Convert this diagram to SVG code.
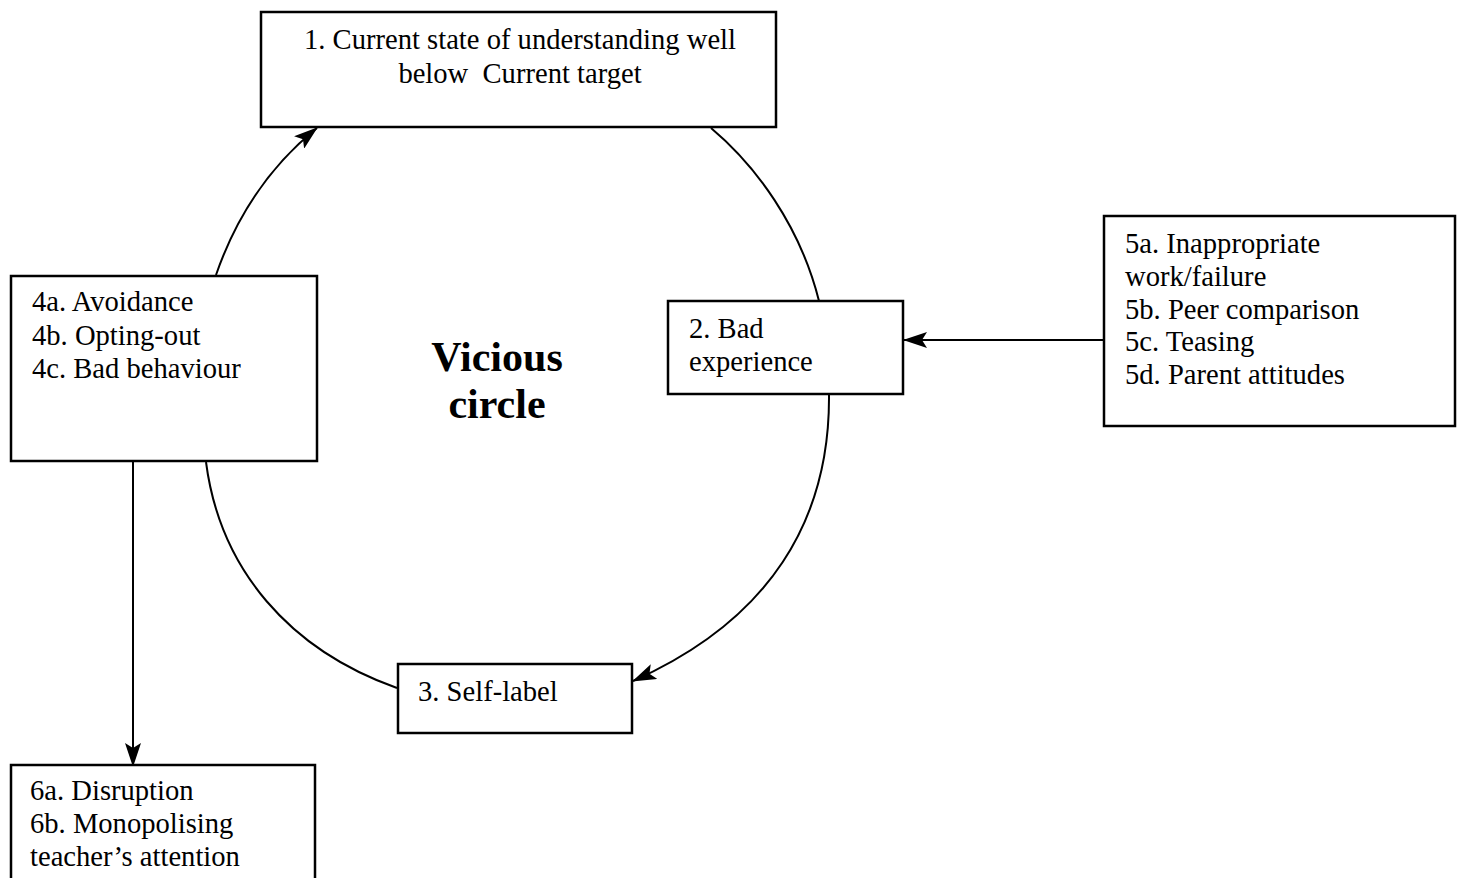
<svg xmlns="http://www.w3.org/2000/svg" width="1462" height="878" viewBox="0 0 1462 878">
<style>
.box{fill:#fff;stroke:#000;stroke-width:2.5}
.t{font-family:"Liberation Serif","Times New Roman",serif;font-size:28.6px;fill:#000}
.b{font-family:"Liberation Serif","Times New Roman",serif;font-size:42px;font-weight:bold;fill:#000}
.c{fill:none;stroke:#000;stroke-width:2}
</style>
<defs>
<marker id="ah" markerWidth="24" markerHeight="16" refX="23" refY="8" orient="auto" markerUnits="userSpaceOnUse">
<path d="M0,0 L24,8 L0,16 L5,8 Z" fill="#000"/>
</marker>
</defs>
<rect width="1462" height="878" fill="#fff"/>
<g id="connectors">
<path class="c" d="M216,275 C235,220 265,170 317,128" marker-end="url(#ah)"/>
<path class="c" d="M711,128 C755,165 800,225 819,301"/>
<path class="c" d="M829,395 C830,520 770,620 633,681" marker-end="url(#ah)"/>
<path class="c" d="M206,462 C220,570 290,650 397,688"/>
<path class="c" d="M1104,340 L904,340" marker-end="url(#ah)"/>
<path class="c" d="M133,461 L133,766" marker-end="url(#ah)"/>
</g>
<g id="n1">
<rect class="box" x="261" y="12" width="515" height="115"/>
<text class="t" x="520" y="49" text-anchor="middle">1. Current state of understanding well</text>
<text class="t" x="520" y="83" text-anchor="middle">below&#160; Current target</text>
</g>
<g id="n2">
<rect class="box" x="668" y="301" width="235" height="93"/>
<text class="t" x="689" y="338">2. Bad</text>
<text class="t" x="689" y="371">experience</text>
</g>
<g id="n3">
<rect class="box" x="398" y="664" width="234" height="69"/>
<text class="t" x="418" y="701">3. Self-label</text>
</g>
<g id="n4">
<rect class="box" x="11" y="276" width="306" height="185"/>
<text class="t" x="32" y="311">4a. Avoidance</text>
<text class="t" x="32" y="345">4b. Opting-out</text>
<text class="t" x="32" y="378">4c. Bad behaviour</text>
</g>
<g id="n5">
<rect class="box" x="1104" y="216" width="351" height="210"/>
<text class="t" x="1125" y="253">5a. Inappropriate</text>
<text class="t" x="1125" y="286">work/failure</text>
<text class="t" x="1125" y="319">5b. Peer comparison</text>
<text class="t" x="1125" y="351">5c. Teasing</text>
<text class="t" x="1125" y="384">5d. Parent attitudes</text>
</g>
<g id="n6">
<rect class="box" x="11" y="765" width="304" height="130"/>
<text class="t" x="30" y="800">6a. Disruption</text>
<text class="t" x="30" y="833">6b. Monopolising</text>
<text class="t" x="30" y="866">teacher’s attention</text>
</g>
<g id="label">
<text class="b" x="497" y="371" text-anchor="middle">Vicious</text>
<text class="b" x="497" y="418" text-anchor="middle">circle</text>
</g>
</svg>
